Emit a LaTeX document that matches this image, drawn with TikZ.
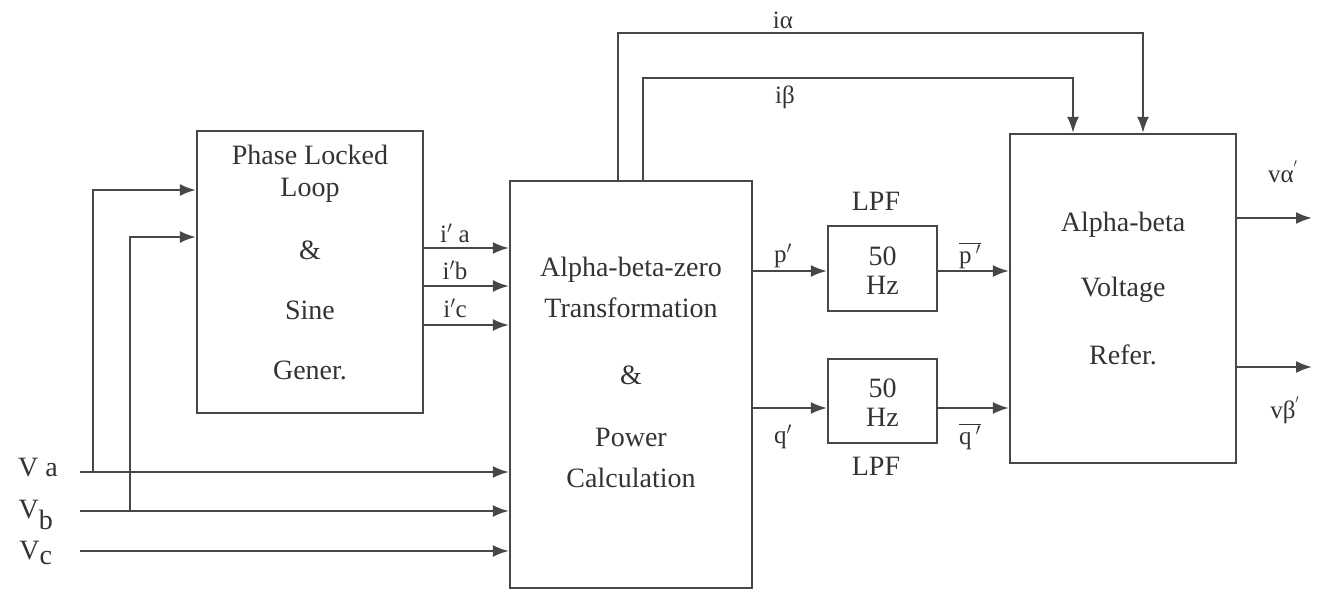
\documentclass[tikz,border=0pt]{standalone}
\usepackage{fontspec}
\setmainfont{Liberation Serif}
\usetikzlibrary{arrows.meta}
\begin{document}
\begin{tikzpicture}[x=1pt,y=-1pt,
  blk/.style={draw=black!72,line width=2.2pt,fill=none,inner sep=0pt},
  arr/.style={draw=black!72,line width=2.2pt,-{Latex[length=16pt,width=12pt]}},
  txt/.style={font=\fontsize{28}{31}\selectfont,text=black!80,inner sep=0pt},
  lbl/.style={font=\fontsize{25}{28}\selectfont,text=black!80,inner sep=0pt}]
\useasboundingbox (0,0) rectangle (1319,593);
% blocks
\node[blk,minimum width=226pt,minimum height=282pt] (pll) at (310,272) {};
\node[blk,minimum width=242pt,minimum height=407pt] (mid) at (631,384.5) {};
\node[blk,minimum width=109pt,minimum height=85pt] (lpf1) at (882.5,268.5) {};
\node[blk,minimum width=109pt,minimum height=84pt] (lpf2) at (882.5,401) {};
\node[blk,minimum width=226pt,minimum height=329pt] (ref) at (1123,298.5) {};
% block texts
\node[txt] (t1) at (310,155) {Phase Locked};
\node[txt] (t2) at (310,190) {Loop};
\node[txt] (t3) at (310,250) {\&};
\node[txt] (t4) at (310,310) {Sine};
\node[txt] (t5) at (310,370) {Gener.};
\node[txt] (m1) at (631,270) {Alpha-beta-zero};
\node[txt] (m2) at (631,308) {Transformation};
\node[txt] (m3) at (631,375) {\&};
\node[txt] (m4) at (631,437) {Power};
\node[txt] (m5) at (631,478) {Calculation};
\node[txt] (l1) at (882.5,256) {50};
\node[txt] (l2) at (882.5,285) {Hz};
\node[txt] (l3) at (882.5,388) {50};
\node[txt] (l4) at (882.5,417) {Hz};
\node[txt] (r1) at (1123,225) {Alpha-beta};
\node[txt] (r2) at (1123,290) {Voltage};
\node[txt] (r3) at (1123,355) {Refer.};
\node[txt] (lpfa) at (876,201) {LPF};
\node[txt] (lpfb) at (876,466) {LPF};
% coordinates
\coordinate (va) at (80,472);
\coordinate (vb) at (80,511);
\coordinate (vc) at (80,551);
\coordinate (bx1) at (93,190);
\coordinate (bx2) at (130,237);
\coordinate (x618) at (618,33);
\coordinate (x643) at (643,78);
\coordinate (x1143) at (1143,33);
\coordinate (x1073) at (1073,78);
\coordinate (y248) at (423,248);
\coordinate (y286) at (423,286);
\coordinate (y325) at (423,325);
\coordinate (yp) at (752,271);
\coordinate (yq) at (752,408);
\coordinate (ya) at (1312,218);
\coordinate (yb) at (1312,367);
% inputs
\draw[arr] (va) -- (mid.west |- va);
\draw[arr] (vb) -- (mid.west |- vb);
\draw[arr] (vc) -- (mid.west |- vc);
\draw[arr] (bx1 |- va) -- (bx1) -- (pll.west |- bx1);
\draw[arr] (bx2 |- vb) -- (bx2) -- (pll.west |- bx2);
% PLL outputs
\draw[arr] (y248) -- (mid.west |- y248);
\draw[arr] (y286) -- (mid.west |- y286);
\draw[arr] (y325) -- (mid.west |- y325);
% i alpha, i beta
\draw[arr] (x618 |- mid.north) -- (x618) -- (x1143) -- (x1143 |- ref.north);
\draw[arr] (x643 |- mid.north) -- (x643) -- (x1073) -- (x1073 |- ref.north);
% p q
\draw[arr] (yp) -- (lpf1.west |- yp);
\draw[arr] (yq) -- (lpf2.west |- yq);
\draw[arr] (lpf1.east |- yp) -- (ref.west |- yp);
\draw[arr] (lpf2.east |- yq) -- (ref.west |- yq);
% outputs
\draw[arr] (ref.east |- ya) -- (ya);
\draw[arr] (ref.east |- yb) -- (yb);
% labels
\node[lbl] (lia) at (455,233) {i$'$ a};
\node[lbl] (lib) at (455,270) {i$'$b};
\node[lbl] (lic) at (455,308) {i$'$c};
\node[lbl] (lalpha) at (783,20) {iα};
\node[lbl] (lbeta) at (785,97) {iβ};
\node[lbl] (lp) at (783,256) {p$'$};
\node[lbl] (lq) at (783,437) {q$'$};
\node[lbl] (lpb) at (970,256) {$\overline{\hbox{p$\,'$}}$};
\node[lbl] (lqb) at (970,437) {$\overline{\hbox{q$\,'$}}$};
\node[lbl] (lva) at (1283,172) {vα$^{'}$};
\node[lbl] (lvb) at (1285,410) {vβ$^{'}$};
\node[txt] (inA) at (38,468) {V a};
\node[txt] (inB) at (36,515) {V$_{\hbox{b}}$};
\node[txt] (inC) at (36,553) {V$_{\hbox{c}}$};
\end{tikzpicture}
\end{document}
